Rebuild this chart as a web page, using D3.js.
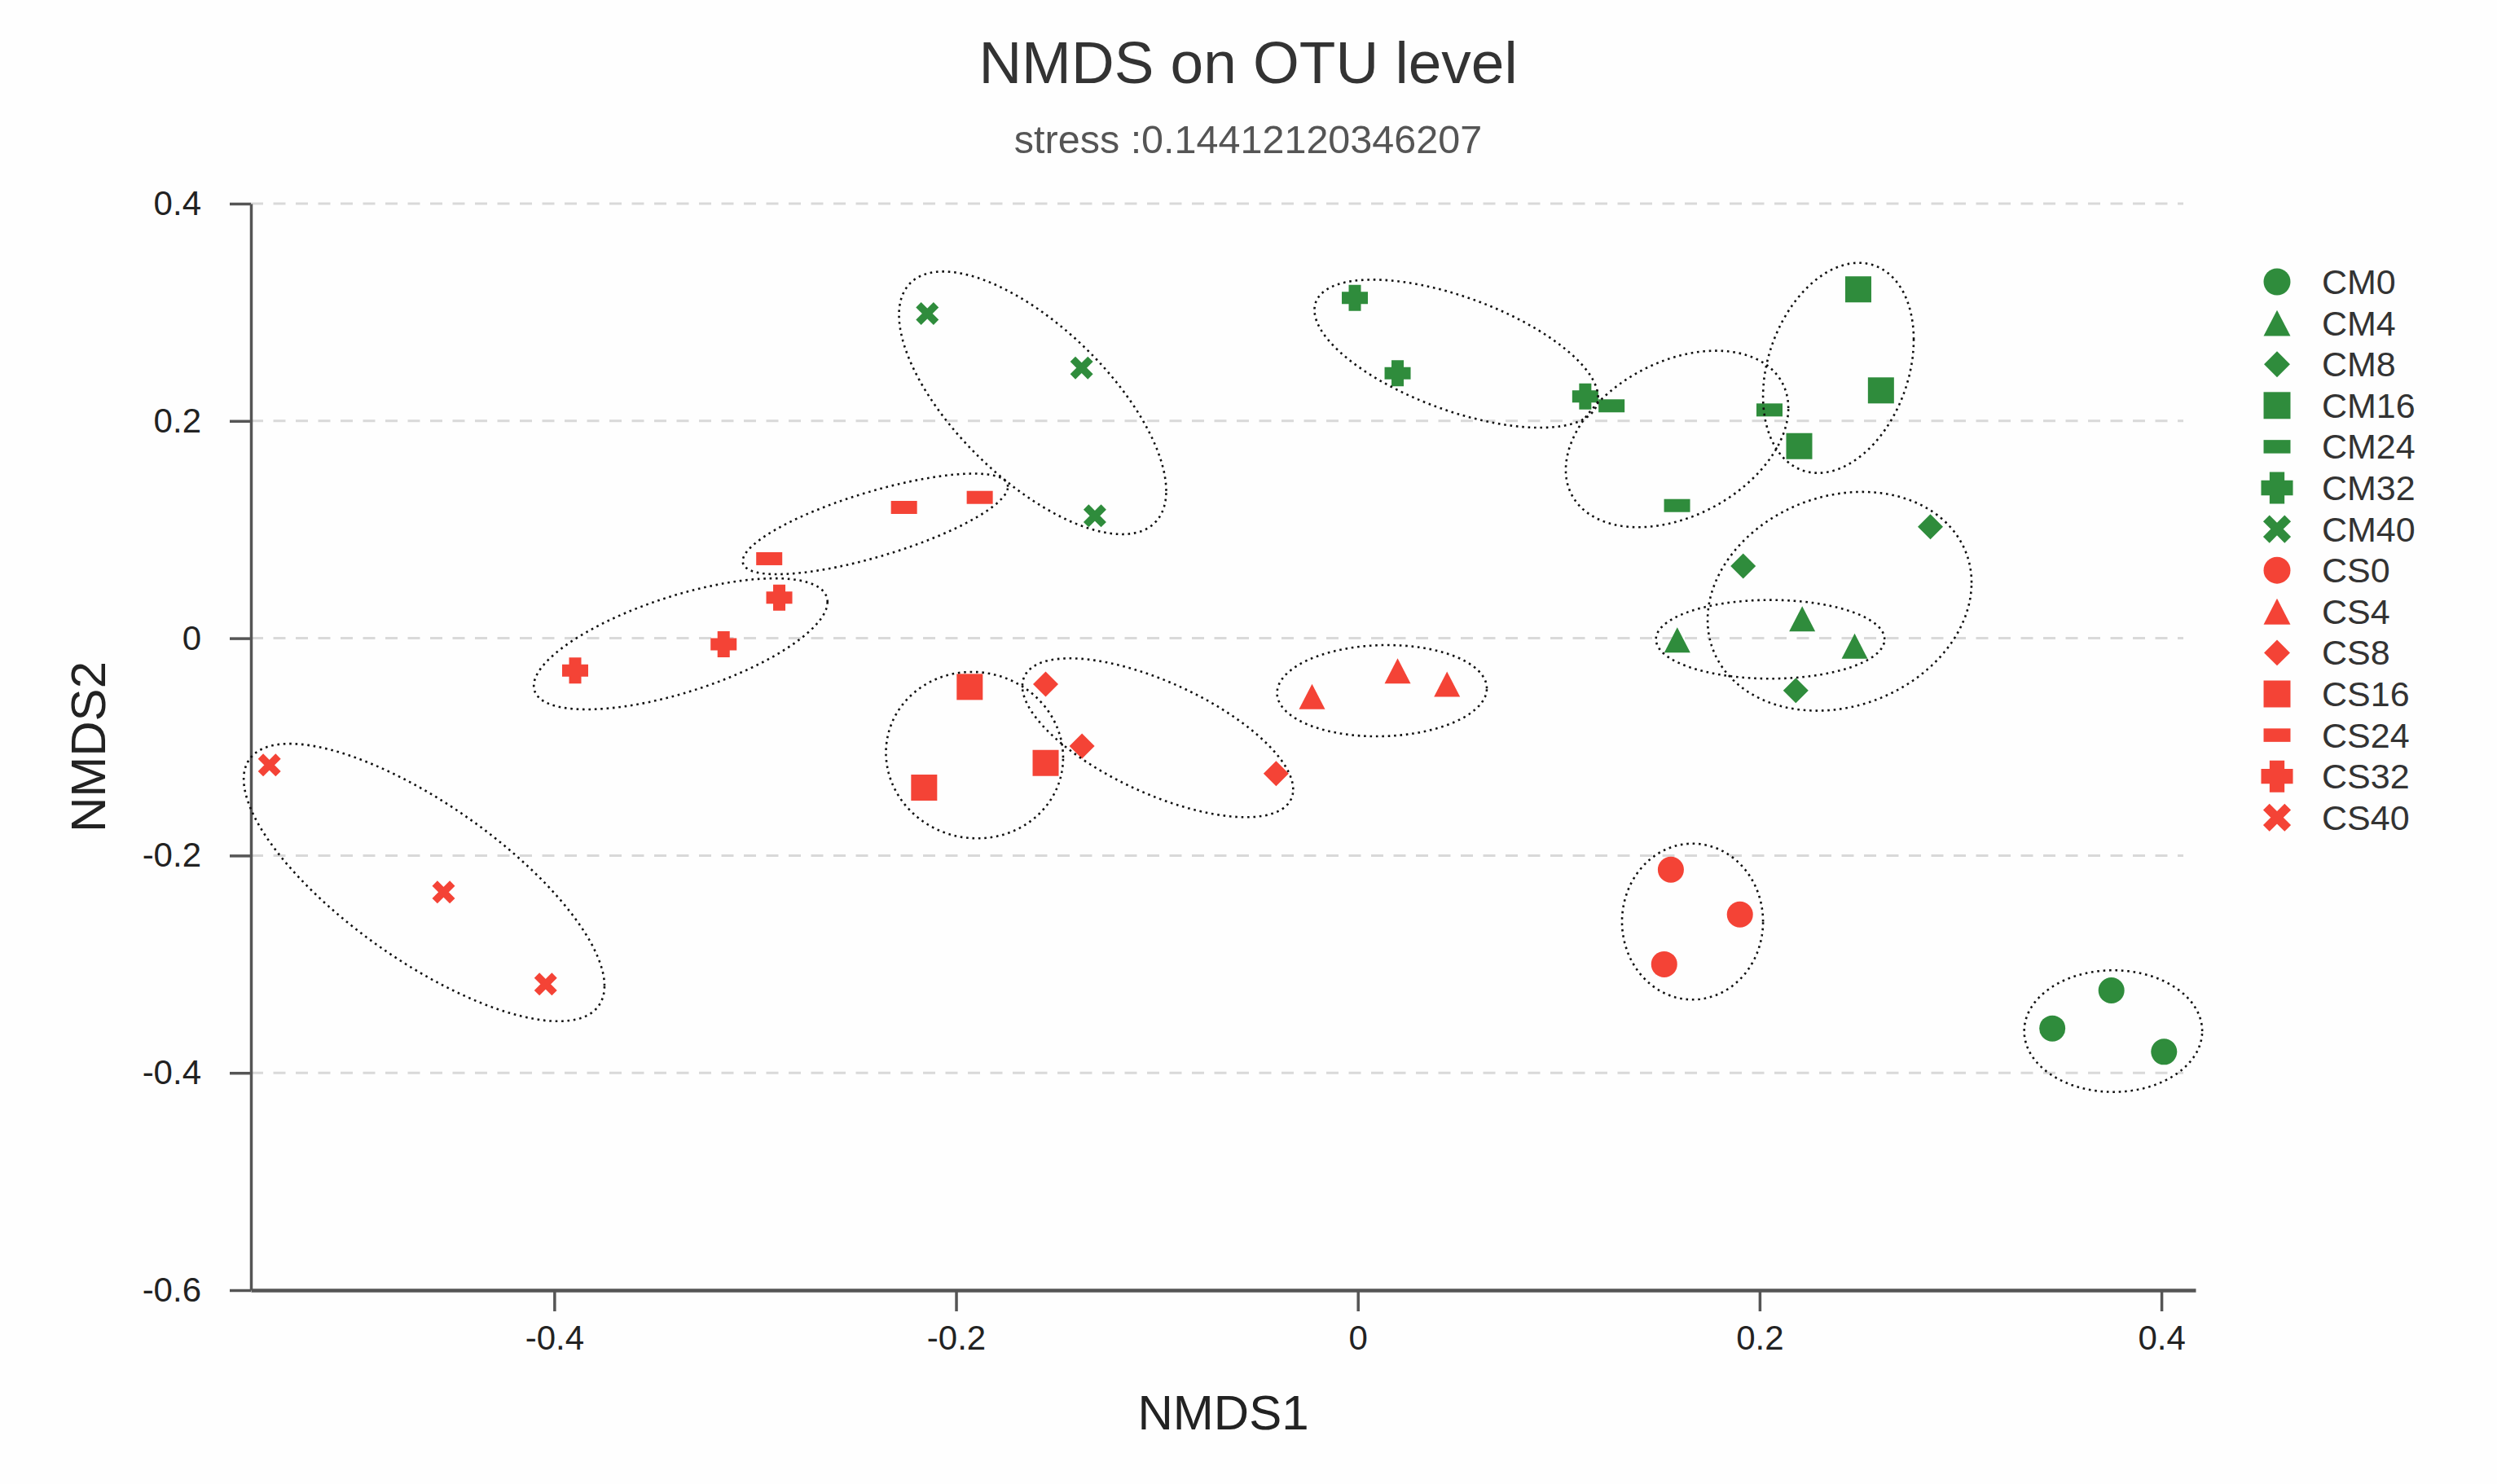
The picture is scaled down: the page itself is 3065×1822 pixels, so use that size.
<!DOCTYPE html>
<html>
<head>
<meta charset="utf-8">
<script src="https://cdn.jsdelivr.net/npm/d3@7"></script>
<style>
  html, body { margin: 0; padding: 0; background: #fefefe; }
  svg { display: block; font-family: "Liberation Sans", Arial, Helvetica, sans-serif; }
</style>
</head>
<body>
<div id="chart"></div>
<script>
// sample groups, in legend order
var groups = ["CM0", "CM4", "CM8", "CM16", "CM24", "CM32", "CM40",
              "CS0", "CS4", "CS8", "CS16", "CS24", "CS32", "CS40"];
var shapes = ["circle", "triangle", "diamond", "square", "minus", "plus", "cross"];
var groupColors = ["#2f8c3c", "#f44336"];

// NMDS1 / NMDS2 scores, three replicates per group
var nmds1 = [
    [0.3457, 0.3751, 0.4013],
    [0.1590, 0.2212, 0.2473],
    [0.1918, 0.2850, 0.2180],
    [0.2491, 0.2604, 0.2197],
    [0.1263, 0.1589, 0.2049],
    [-0.0015, 0.0198, 0.1132],
    [-0.2143, -0.1375, -0.1309],
    [0.1558, 0.1902, 0.1525],
    [-0.0228, 0.0198, 0.0444],
    [-0.1554, -0.1373, -0.0407],
    [-0.1932, -0.2159, -0.1554],
    [-0.2930, -0.2259, -0.1882],
    [-0.3896, -0.3157, -0.2880],
    [-0.5418, -0.4551, -0.4043]
];
var nmds2 = [
    [-0.3591, -0.3241, -0.3806],
    [-0.0016, 0.0179, -0.0073],
    [0.0664, 0.1026, -0.0481],
    [0.3211, 0.2281, 0.1768],
    [0.2139, 0.1221, 0.2101],
    [0.3133, 0.2439, 0.2226],
    [0.2988, 0.2488, 0.1127],
    [-0.2130, -0.2542, -0.3001],
    [-0.0537, -0.0301, -0.0423],
    [-0.0423, -0.0993, -0.1245],
    [-0.0448, -0.1375, -0.1148],
    [0.0732, 0.1204, 0.1296],
    [-0.0298, -0.0055, 0.0374],
    [-0.1167, -0.2337, -0.3184]
];

// group ellipses: centre, half extent along each axis, and tilt (correlation)
var ellCx  = [0.3760, 0.2053, 0.2398, 0.2392, 0.1589, 0.0490, -0.1619,
              0.1666, 0.0120, -0.0996, -0.1908, -0.2402, -0.3371, -0.4648];
var ellCy  = [-0.3616, -0.0010, 0.0340, 0.2488, 0.1834, 0.2619, 0.2166,
              -0.2608, -0.0483, -0.0916, -0.1076, 0.1052, -0.0052, -0.2248];
var ellHw  = [0.0443, 0.0569, 0.0657, 0.0375, 0.0554, 0.0706, 0.0665,
              0.0351, 0.0522, 0.0674, 0.0441, 0.0660, 0.0731, 0.0898];
var ellHh  = [0.0560, 0.0362, 0.1007, 0.0967, 0.0812, 0.0681, 0.1209,
              0.0718, 0.0420, 0.0731, 0.0766, 0.0463, 0.0603, 0.1277];
var ellRho = [0, 0, 0.17, 0.27, 0.35, -0.59, -0.67,
              0, 0.05, -0.65, -0.03, 0.74, 0.64, -0.745];

var xTicks = [-0.4, -0.2, 0, 0.2, 0.4];
var yTicks = [0.4, 0.2, 0, -0.2, -0.4, -0.6];
var xDomain = [-0.551, 0.417];
var yDomain = [-0.6, 0.4];

var titleText = "NMDS on OTU level";
var subtitleText = "stress :0.14412120346207";

(function() {
    var width = 3065, height = 1822;
    var plot = {left: 308, right: 2695, top: 250, bottom: 1584};

    var x = d3.scaleLinear().domain(xDomain).range([plot.left, plot.right]);
    var y = d3.scaleLinear().domain(yDomain).range([plot.bottom, plot.top]);

    var svg = d3.select("#chart").append("svg")
        .attr("width", width)
        .attr("height", height);

    svg.append("rect")
        .attr("width", width)
        .attr("height", height)
        .attr("fill", "#fefefe");

    // titles
    svg.append("text")
        .attr("x", 1532).attr("y", 102)
        .attr("text-anchor", "middle")
        .style("font-size", "73px")
        .style("fill", "#333")
        .text(titleText);

    svg.append("text")
        .attr("x", 1532).attr("y", 188)
        .attr("text-anchor", "middle")
        .style("font-size", "48.5px")
        .style("fill", "#555")
        .text(subtitleText);

    // grid lines
    svg.append("g")
        .classed("grid", true)
        .selectAll("line")
        .data(yTicks.filter(function(d) { return d > yDomain[0]; }))
        .enter()
        .append("line")
            .attr("x1", plot.left)
            .attr("x2", plot.right - 15)
            .attr("y1", function(d) { return y(d); })
            .attr("y2", function(d) { return y(d); })
            .style("stroke", "#d9d9d9")
            .style("stroke-width", 3)
            .style("stroke-dasharray", "15,12.5");

    var fmt = function(d) { return String(+d.toFixed(1)); };

    var xAxis = svg.append("g")
        .attr("transform", "translate(0," + plot.bottom + ")")
        .call(d3.axisBottom(x).tickValues(xTicks).tickFormat(fmt)
            .tickSize(26).tickSizeOuter(0).tickPadding(17));

    var yAxis = svg.append("g")
        .attr("transform", "translate(" + plot.left + ",0)")
        .call(d3.axisLeft(y).tickValues(yTicks).tickFormat(fmt)
            .tickSize(26).tickSizeOuter(0).tickPadding(35));

    [xAxis, yAxis].forEach(function(ax) {
        ax.select(".domain").style("stroke", "#555").style("stroke-width", 3.5);
        ax.selectAll(".tick line").style("stroke", "#555").style("stroke-width", 3.5);
        ax.selectAll(".tick text")
            .style("font-size", "42px")
            .style("fill", "#222")
            .style("font-family", "'Liberation Sans', Arial, sans-serif");
    });
    xAxis.select(".domain").style("stroke-width", 4.5);

    // axis titles
    svg.append("text")
        .attr("x", (plot.left + plot.right) / 2).attr("y", 1755)
        .attr("text-anchor", "middle")
        .style("font-size", "60px")
        .style("fill", "#222")
        .text("NMDS1");

    svg.append("text")
        .attr("transform", "translate(129," + ((plot.top + plot.bottom) / 2) + ") rotate(-90)")
        .attr("text-anchor", "middle")
        .style("font-size", "60px")
        .style("fill", "#222")
        .text("NMDS2");

    // marker drawing, centred on the bounding box
    function marker(sel, shape, color, k) {
        var s = k || 1;
        if (shape === "circle") {
            sel.append("circle").attr("r", 16 * s).style("fill", color);
        } else if (shape === "triangle") {
            sel.append("path")
                .attr("d", "M0," + (-15.5 * s) + "L" + (16 * s) + "," + (15.5 * s) + "L" + (-16 * s) + "," + (15.5 * s) + "Z")
                .style("fill", color);
        } else if (shape === "diamond") {
            var h = 15.5 * s;
            sel.append("path")
                .attr("d", "M0," + (-h) + "L" + h + ",0L0," + h + "L" + (-h) + ",0Z")
                .style("fill", color);
        } else if (shape === "square") {
            sel.append("rect")
                .attr("x", -16 * s).attr("y", -16 * s)
                .attr("width", 32 * s).attr("height", 32 * s)
                .style("fill", color);
        } else if (shape === "minus") {
            sel.append("rect")
                .attr("x", -16 * s).attr("y", -8 * s)
                .attr("width", 32 * s).attr("height", 16 * s)
                .style("fill", color);
        } else if (shape === "plus") {
            var a = 16 * s, b = 7.5 * s;
            sel.append("path")
                .attr("d", "M" + (-b) + "," + (-a) + "H" + b + "V" + (-b) + "H" + a + "V" + b + "H" + b +
                    "V" + a + "H" + (-b) + "V" + b + "H" + (-a) + "V" + (-b) + "H" + (-b) + "Z")
                .style("fill", color);
        } else if (shape === "cross") {
            var c = 10.8 * s;
            sel.append("path")
                .attr("d", "M" + (-c) + "," + (-c) + "L" + c + "," + c + "M" + c + "," + (-c) + "L" + (-c) + "," + c)
                .style("stroke", color)
                .style("stroke-width", 9 * s)
                .style("fill", "none");
        }
    }

    // points
    var points = [];
    groups.forEach(function(g, gi) {
        nmds1[gi].forEach(function(v, j) {
            points.push({group: g, gi: gi, x: v, y: nmds2[gi][j]});
        });
    });

    var pointLayer = svg.append("g").classed("points", true);
    pointLayer.selectAll("g")
        .data(points)
        .enter()
        .append("g")
            .attr("transform", function(d) { return "translate(" + x(d.x) + "," + y(d.y) + ")"; })
            .each(function(d) {
                marker(d3.select(this), shapes[d.gi % 7], groupColors[Math.floor(d.gi / 7)]);
            });

    // ellipses
    var ellipseLine = d3.line()
        .x(function(p) { return x(p[0]); })
        .y(function(p) { return y(p[1]); })
        .curve(d3.curveLinearClosed);

    var ellipses = groups.map(function(g, gi) {
        var pts = [];
        var rho = ellRho[gi], q = Math.sqrt(1 - rho * rho);
        for (var i = 0; i < 180; i++) {
            var t = i / 180 * 2 * Math.PI;
            pts.push([ellCx[gi] + ellHw[gi] * Math.cos(t),
                      ellCy[gi] + ellHh[gi] * (rho * Math.cos(t) + q * Math.sin(t))]);
        }
        return pts;
    });

    svg.append("g")
        .classed("ellipses", true)
        .selectAll("path")
        .data(ellipses)
        .enter()
        .append("path")
            .attr("d", ellipseLine)
            .style("fill", "none")
            .style("stroke", "#111")
            .style("stroke-width", 2.6)
            .style("stroke-dasharray", "2.6,4.8");

    // legend
    var legend = svg.append("g")
        .classed("legend", true)
        .attr("transform", "translate(2795,346)");

    var items = legend.selectAll(".item")
        .data(groups)
        .enter()
        .append("g")
            .classed("item", true)
            .attr("transform", function(d, i) { return "translate(0," + (i * 50.6) + ")"; });

    items.each(function(d, i) {
        var shape = shapes[i % 7];
        var k = (shape === "plus" || shape === "cross") ? 1.22 : 1.03;
        marker(d3.select(this), shape, groupColors[Math.floor(i / 7)], k);
    });

    items.append("text")
        .attr("x", 55)
        .attr("dy", "0.35em")
        .style("font-size", "43px")
        .style("fill", "#333")
        .text(function(d) { return d; });
})();
</script>
</body>
</html>
